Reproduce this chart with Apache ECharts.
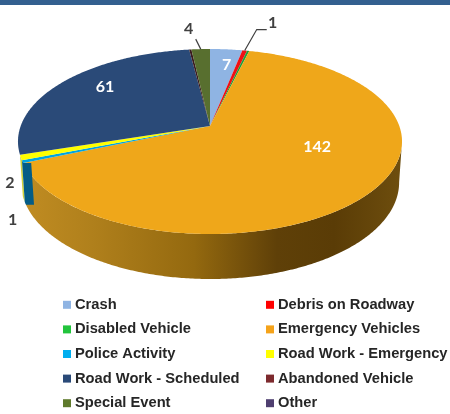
<!DOCTYPE html>
<html>
<head>
<meta charset="utf-8">
<style>
    html, body { margin: 0; padding: 0; background: #fff; }
    #chart { width: 450px; height: 414px; }
</style>
</head>
<body>
<div id="chart"></div>
<script src="https://cdn.jsdelivr.net/npm/echarts@6/dist/echarts.min.js"></script>
<script>
const categories = [
    'Crash', 'Debris on Roadway', 'Disabled Vehicle', 'Emergency Vehicles', 'Police Activity',
    'Road Work - Emergency', 'Road Work - Scheduled', 'Abandoned Vehicle', 'Special Event', 'Other'
];
// the two unlabelled slivers are estimates
const incidents = [7, 1, 0.5, 142, 1, 2, 61, 0.5, 4, 0];
const swatchColors = [
    '#8fb4e3', '#ff0000', '#22c43c', '#f5a31a', '#00aeef',
    '#ffff00', '#2a4a78', '#7d2a2e', '#5f7a2c', '#4f3f70'
];
const sliceColors = [
    '#8fb4e3', '#f00f14', '#1f9e3a', '#efa71a', '#00a4e0',
    '#ffff00', '#2a4a78', '#3a1c20', '#586f2f', '#4f3f70'
];
const wallColors = {
    4: '#045c86',
    5: '#cfd23a'
};
// the police wall reads wider than its slice in the picture
const wallExtra = { 4: 8 };

// where each value label sits: r is the fraction of the radius, dx/dy nudge it
const labelPlace = {
    0: { r: 0.75, dx: 4, dy: -2, color: '#fff' },
    1: { r: 1, dx: 28, dy: -28, color: '#404040', leader: [[12, -21], [22, -21]] },
    3: { r: 0.6, dx: 15, dy: -17, color: '#fff' },
    4: { r: 1, dx: -10, dy: 58, color: '#404040' },
    5: { r: 1, dx: -11, dy: 25, color: '#404040' },
    6: { r: 0.65, dx: -7, dy: -10, color: '#fff' },
    8: { r: 1, dx: -12, dy: -20, color: '#404040', leader: [[-5, -10]] }
};

// the pie is a flat disc seen in perspective
const apex = { x: 210, y: 126 };
const pie = { a: 189.3, b: 89.9, k: 0.1676, depth: 40, depthFront: 5, shrink: 0.985 };
const total = incidents.reduce((sum, v) => sum + v, 0);
const starts = [];
incidents.reduce((sum, v, i) => {
    starts[i] = sum;
    return sum + v;
}, 0);
const toRad = (value) => (value / total) * Math.PI * 2;
const rightEdge = Math.acos(-pie.k);
const wallEnd = toRad(starts[6]);

const topPoint = (theta, r) => {
    const u = Math.sin(theta) * r;
    const v = Math.cos(theta) * r;
    const w = 1 + pie.k * v;
    return [apex.x + (pie.a * u) / w, apex.y - (pie.b * v) / w];
};
const bottomPoint = (theta) => {
    const p = topPoint(theta, 1);
    return [
        apex.x + (p[0] - apex.x) * pie.shrink,
        p[1] + pie.depth + pie.depthFront * Math.max(0, -Math.cos(theta))
    ];
};
const arcPoints = (from, to, fn) => {
    const points = [];
    const steps = Math.max(2, Math.ceil((to - from) / 0.01));
    for (let i = 0; i <= steps; i++) {
        points.push(fn(from + ((to - from) * i) / steps));
    }
    return points;
};

const wallGradient = {
    type: 'linear', x: 0, y: 0, x2: 1, y2: 0,
    colorStops: [
        { offset: 0, color: '#c08c22' },
        { offset: 0.18, color: '#b0801c' },
        { offset: 0.45, color: '#94690f' },
        { offset: 0.67, color: '#5f4008' },
        { offset: 0.82, color: '#5a3c06' },
        { offset: 1, color: '#6e4e0e' }
    ]
};

const renderSlice = (params, api) => {
    const index = params.seriesIndex;
    const value = api.value(0);
    if (!value) return null;
    const from = toRad(starts[index]);
    const to = toRad(starts[index] + value);
    const children = [];

    // side wall, only on the front half of the disc
    const wallFrom = Math.max(from, rightEdge);
    const wallTo = Math.min(to, wallEnd);
    if (wallTo > wallFrom) {
        let points = arcPoints(wallFrom, wallTo, (t) => topPoint(t, 1)).concat(
            arcPoints(wallFrom, wallTo, bottomPoint).reverse()
        );
        const extra = wallExtra[index];
        if (extra) {
            const foot = bottomPoint(wallFrom);
            const head = topPoint(wallFrom, 1);
            points = points.concat([[foot[0] + extra, foot[1]], [head[0] + extra, head[1]]]);
        }
        children.push({
            type: 'polygon',
            z2: extra ? 3 : 1,
            shape: { points },
            style: { fill: index === 3 ? wallGradient : wallColors[index] }
        });
    }

    children.push({
        type: 'polygon',
        z2: 2,
        shape: {
            points: [[apex.x, apex.y]].concat(arcPoints(from, to, (t) => topPoint(t, 1)))
        },
        style: { fill: sliceColors[index] }
    });

    const place = labelPlace[index];
    if (place) {
        const mid = topPoint((from + to) / 2, place.r);
        children.push({
            type: 'text',
            z2: 5,
            style: {
                x: mid[0] + place.dx,
                y: mid[1] + place.dy,
                text: String(value),
                fill: place.color,
                font: 'bold 16px Lato',
                align: 'center',
                verticalAlign: 'middle'
            }
        });
        if (place.leader) {
            const rim = topPoint((from + to) / 2, 1);
            children.push({
                type: 'polyline',
                z2: 5,
                shape: {
                    points: [rim].concat(place.leader.map((d) => [rim[0] + d[0], rim[1] + d[1]]))
                },
                style: { stroke: '#404040', lineWidth: 1.2, fill: 'none' }
            });
        }
    }
    return { type: 'group', children };
};

const legendBase = {
    orient: 'vertical',
    top: 292,
    height: 122,
    itemWidth: 8,
    itemHeight: 8,
    itemGap: 9,
    icon: 'rect',
    selectedMode: false,
    textStyle: {
        color: '#262626',
        fontFamily: 'Liberation Sans',
        fontWeight: 'bold',
        fontSize: 14.7,
        lineHeight: 15.6,
        padding: [0, 0, 0, -1]
    }
};

const chart = echarts.init(document.getElementById('chart'), null, { renderer: 'canvas' });
chart.setOption({
    animation: false,
    backgroundColor: '#fff',
    graphic: [
        {
            type: 'rect',
            shape: { x: 0, y: 0, width: 450, height: 5 },
            style: { fill: '#33608f' }
        }
    ],
    legend: [
        Object.assign({}, legendBase, {
            left: 58,
            data: categories.filter((_, i) => i % 2 === 0)
        }),
        Object.assign({}, legendBase, {
            left: 261,
            data: categories.filter((_, i) => i % 2 === 1)
        })
    ],
    series: categories.map((name, i) => ({
        type: 'custom',
        name,
        coordinateSystem: 'none',
        itemStyle: { color: swatchColors[i] },
        renderItem: renderSlice,
        data: [[incidents[i]]]
    }))
});
</script>
</body>
</html>
